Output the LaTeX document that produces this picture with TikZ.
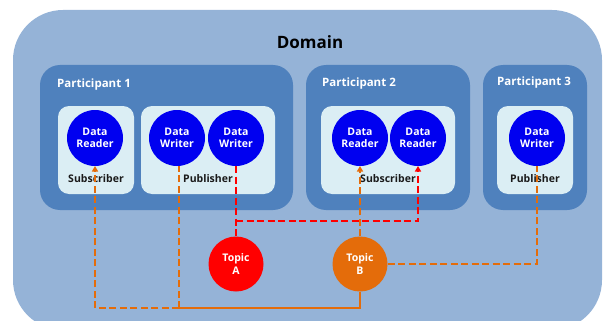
\documentclass[tikz,border=0pt]{standalone}
\usepackage{fontspec}
\setmainfont{Open Sans}
\usetikzlibrary{arrows.meta}

\definecolor{domainfill}{HTML}{95B3D7}
\definecolor{partfill}{HTML}{4F81BD}
\definecolor{boxfill}{HTML}{DBEEF4}
\definecolor{entityblue}{HTML}{0000F0}
\definecolor{topicred}{HTML}{FF0000}
\definecolor{topicorange}{HTML}{E46C0A}
\definecolor{labeldark}{HTML}{1A1A1A}

\tikzset{
  partbox/.style={fill=partfill, rounded corners=20pt},
  rolebox/.style={fill=boxfill, rounded corners=11pt},
  entity/.style={circle, fill=entityblue, minimum size=56pt, inner sep=0pt,
    text=white, font=\fontsize{10.5}{12.5}\selectfont\bfseries, align=center},
  topic/.style={circle, minimum size=55pt, inner sep=0pt,
    text=white, font=\fontsize{10.5}{12.5}\selectfont\bfseries, align=center},
  partlabel/.style={anchor=west, text=white, inner sep=0pt,
    font=\fontsize{11.5}{13}\selectfont\bfseries},
  rolelabel/.style={text=labeldark, inner sep=0pt,
    font=\fontsize{10.5}{12}\selectfont\bfseries},
  link/.style={line width=2.2pt, dash pattern=on 7pt off 3.5pt},
  tip/.style={-{Triangle[length=5.5pt,width=6pt]}}
}

\begin{document}
\begin{tikzpicture}[x=1pt, y=-1pt]
  \useasboundingbox (0,0) rectangle (605,321);
  \clip (0,0) rectangle (605,321);

  % domain background
  \fill[domainfill, rounded corners=50pt] (13,10) rectangle (602,330);
  \node[font=\fontsize{17}{19}\selectfont\bfseries, text=black] (domain) at (310,42) {Domain};

  % participants
  \fill[partbox] (40,65) rectangle (293,210);
  \fill[partbox] (306,65) rectangle (470,210);
  \fill[partbox] (483,65) rectangle (587,210);
  \node[partlabel] (p1) at (57,85) {Participant 1};
  \node[partlabel] (p2) at (322,84) {Participant 2};
  \node[partlabel] (p3) at (497,83) {Participant 3};

  % subscriber / publisher boxes
  \fill[rolebox] (58,106) rectangle (134,194);
  \fill[rolebox] (141,106) rectangle (275,194);
  \fill[rolebox] (321,106) rectangle (455,194);
  \fill[rolebox] (497,106) rectangle (573,194);
  \node[rolelabel] (sub1) at (96,179) {Subscriber};
  \node[rolelabel] (pub1) at (208,179) {Publisher};
  \node[rolelabel] (sub2) at (388,179) {Subscriber};
  \node[rolelabel] (pub3) at (535,179) {Publisher};

  % topics
  \node[topic, fill=topicred] (ta) at (236,264) {Topic\\A};
  \node[topic, fill=topicorange] (tb) at (360,264) {Topic\\B};

  % junction points
  \coordinate (ra) at (236,221);
  \coordinate (rb) at (418,221);
  \coordinate (ob) at (179,308);
  \coordinate (oc) at (95,308);
  \coordinate (od) at (537,264);

  % connectors (drawn under the entity circles)
  \draw[link, topicred] (236,166) -- (ta.north);
  \draw[link, topicred, tip] (ra) -- (rb) -- (418,166);
  \draw[link, topicorange, tip] (tb.north) -- (360,166);
  \draw[link, topicorange] (tb.east) -- (od) -- (537,166);
  \draw[line width=2.2pt, topicorange] (tb.south) |- (ob);
  \draw[link, topicorange, tip] (ob) -- (oc) -- (95,166);
  \draw[link, topicorange] (ob) -- (179,166);

  % data readers and writers
  \node[entity] (r1) at (95,138) {Data\\Reader};
  \node[entity] (w1) at (177,138) {Data\\Writer};
  \node[entity] (w2) at (236,138) {Data\\Writer};
  \node[entity] (r2) at (360,138) {Data\\Reader};
  \node[entity] (r3) at (418,138) {Data\\Reader};
  \node[entity] (w3) at (537,138) {Data\\Writer};
\end{tikzpicture}
\end{document}
